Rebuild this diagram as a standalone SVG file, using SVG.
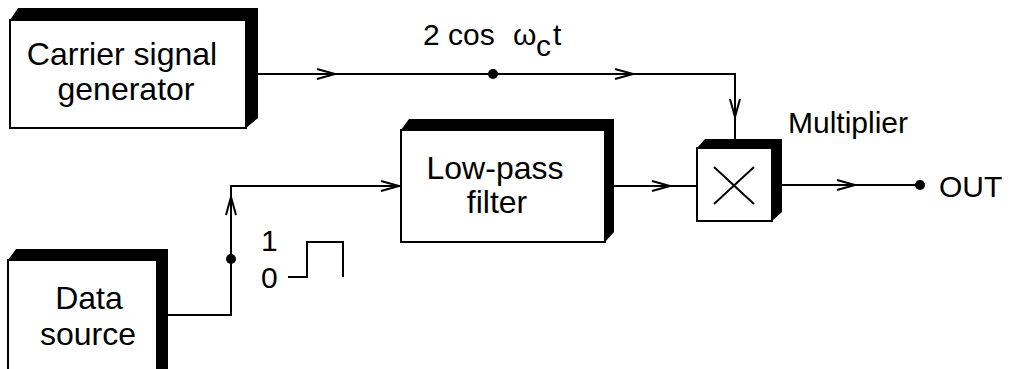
<svg xmlns="http://www.w3.org/2000/svg" width="1012" height="369" viewBox="0 0 1012 369">
<style>
.face{fill:#fff;stroke:#000;stroke-width:2}
.shade{fill:#000}
.wire{fill:none;stroke:#000;stroke-width:2}
.chev{fill:none;stroke:#000;stroke-width:2}
text{font-family:"Liberation Sans",Arial,sans-serif;font-size:32px;fill:#000}
.c{text-anchor:middle}
.s{font-size:30px}
</style>
<defs>
<path id="chev" class="chev" d="M-18,-5 L0,0 L-18,5"/>
</defs>
<rect width="1012" height="369" fill="#fff"/>
<g id="carrier">
<polygon class="shade" points="10,20 18,8 258,8 258,118 246,128 246,20"/>
<rect class="face" x="10" y="20" width="236" height="108"/>
<text class="c" x="122" y="65">Carrier signal</text>
<text class="c" x="126" y="100">generator</text>
</g>
<g id="lowpass">
<polygon class="shade" points="401,130 409,119 614,119 614,232 605,242 605,130"/>
<rect class="face" x="401" y="130" width="204" height="112"/>
<text class="c" x="495" y="179">Low-pass</text>
<text class="c" x="497" y="213">filter</text>
</g>
<g id="multiplier">
<polygon class="shade" points="697,148 705,139 782,139 782,212 772,221 772,148"/>
<rect class="face" x="697" y="148" width="75" height="73"/>
<path class="wire" d="M714,167 L754,204 M754,167 L714,204"/>
<text class="s" x="788" y="133">Multiplier</text>
</g>
<g id="datasource">
<polygon class="shade" points="8,260 16,249 168,249 168,380 157,380 157,260"/>
<rect class="face" x="8" y="260" width="149" height="130"/>
<text class="c" x="89" y="309">Data</text>
<text class="c" x="88" y="345">source</text>
</g>
<g id="connectors">
<path class="wire" d="M258,74 H735 V139"/>
<path class="wire" d="M168,315 H231 V186 H401"/>
<path class="wire" d="M614,186 H697"/>
<path class="wire" d="M782,185 H920"/>
<use href="#chev" transform="translate(335,74)"/>
<use href="#chev" transform="translate(633,74)"/>
<use href="#chev" transform="translate(735,117) rotate(90)"/>
<use href="#chev" transform="translate(231,197) rotate(-90)"/>
<use href="#chev" transform="translate(399,186)"/>
<use href="#chev" transform="translate(670,186)"/>
<use href="#chev" transform="translate(855,185)"/>
<circle cx="493" cy="74" r="5"/>
<circle cx="231" cy="259" r="5"/>
<circle cx="920" cy="185" r="5"/>
</g>
<g id="labels">
<text class="s" x="423" y="45">2 cos</text>
<text class="s" x="513" y="45">ω</text>
<text class="s" x="536" y="56">c</text>
<text class="s" x="553" y="45">t</text>
<text class="s" x="261" y="251">1</text>
<text class="s" x="261" y="288">0</text>
<path class="wire" d="M288,277 H307 V242 H343 V277"/>
<text class="s" x="939" y="197">OUT</text>
</g>
</svg>
